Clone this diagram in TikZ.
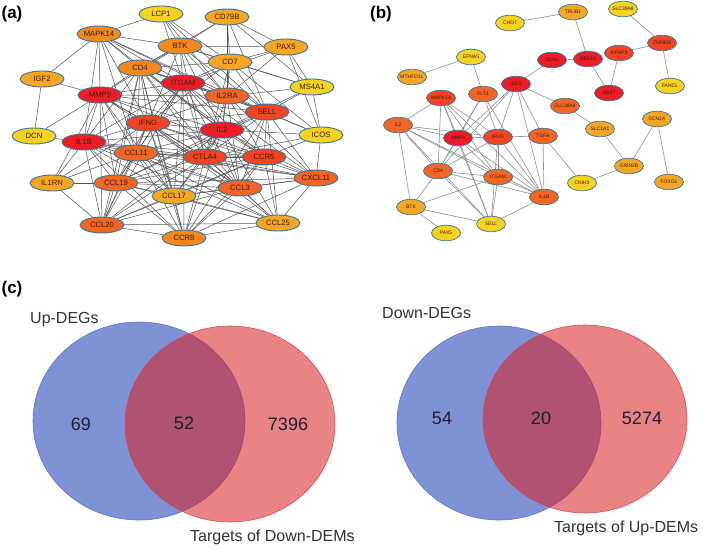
\documentclass[tikz,border=0pt]{standalone}
\usepackage{fontspec}
\setmainfont{Liberation Sans}
\usetikzlibrary{shapes.geometric,backgrounds}
\definecolor{cR}{RGB}{238,28,36}
\definecolor{cRO}{RGB}{240,68,34}
\definecolor{cO1}{RGB}{242,101,34}
\definecolor{cO2}{RGB}{245,135,31}
\definecolor{cLO}{RGB}{246,166,35}
\definecolor{cY}{RGB}{248,210,30}
\definecolor{nbord}{RGB}{48,118,160}
\definecolor{edgea}{RGB}{85,85,85}
\definecolor{edgeb}{RGB}{145,145,145}
\definecolor{vblue}{RGB}{128,146,214}
\definecolor{vblueb}{RGB}{95,115,205}
\definecolor{vred}{RGB}{215,30,35}
\definecolor{vredb}{RGB}{205,70,80}
\definecolor{numcol}{RGB}{30,30,45}
\definecolor{ntext}{RGB}{60,30,20}
\begin{document}
\begin{tikzpicture}[x=1pt,y=-1pt,
 na/.style={ellipse,draw=nbord,line width=0.9pt,minimum width=44pt,minimum height=16pt,inner sep=0pt,font=\fontsize{7.7}{8}\selectfont,text=ntext},
 nb/.style={ellipse,draw=nbord,line width=0.7pt,minimum width=29pt,minimum height=15.5pt,inner xsep=-3pt,inner ysep=0pt,font=\fontsize{5}{6}\selectfont,text=ntext},
 ea/.style={draw=edgea,line width=0.5pt},
 eb/.style={draw=edgeb,line width=0.6pt},
 plabel/.style={font=\fontsize{17}{20}\selectfont\bfseries,inner sep=0pt},
 vnum/.style={font=\fontsize{18}{20}\selectfont,text=numcol,inner sep=0pt},
 vlab/.style={font=\fontsize{16}{18}\selectfont,text=black!80,inner sep=0pt,anchor=west}]
\useasboundingbox (0,0) rectangle (708,549);

% ---------- panel labels
\node[plabel] (la) at (12,14) {(a)};
\node[plabel] (lb) at (381,14) {(b)};
\node[plabel] (lc) at (12,289) {(c)};

% ---------- panel (a) nodes
\node[na,fill=cY] (aLCP1) at (161,14) {LCP1};
\node[na,fill=cLO] (aCD79B) at (227,17) {CD79B};
\node[na,fill=cO2] (aMAPK14) at (99,34) {MAPK14};
\node[na,fill=cO2] (aBTK) at (180,46) {BTK};
\node[na,fill=cLO] (aPAX5) at (286,47) {PAX5};
\node[na,fill=cO2] (aCD4) at (140,68) {CD4};
\node[na,fill=cLO] (aCD7) at (230,62) {CD7};
\node[na,fill=cLO] (aIGF2) at (42,79) {IGF2};
\node[na,fill=cR] (aITGAM) at (183,83) {ITGAM};
\node[na,fill=cO1] (aIL2RA) at (227,96) {IL2RA};
\node[na,fill=cY] (aMS4A1) at (312,87) {MS4A1};
\node[na,fill=cR] (aMMP9) at (100,95) {MMP9};
\node[na,fill=cRO] (aSELL) at (267,112) {SELL};
\node[na,fill=cRO] (aIFNG) at (148,123) {IFNG};
\node[na,fill=cR] (aIL2) at (222,130) {IL2};
\node[na,fill=cY] (aICOS) at (321,135) {ICOS};
\node[na,fill=cY] (aDCN) at (34,136) {DCN};
\node[na,fill=cR] (aIL1B) at (84,142) {IL1B};
\node[na,fill=cO1] (aCCL11) at (136,153) {CCL11};
\node[na,fill=cRO] (aCTLA4) at (205,157) {CTLA4};
\node[na,fill=cRO] (aCCR5) at (264,157) {CCR5};
\node[na,fill=cO1] (aCXCL11) at (316,178) {CXCL11};
\node[na,fill=cLO] (aIL1RN) at (52,183) {IL1RN};
\node[na,fill=cO1] (aCCL19) at (116,183) {CCL19};
\node[na,fill=cO1] (aCCL3) at (240,188) {CCL3};
\node[na,fill=cLO] (aCCL17) at (174,196) {CCL17};
\node[na,fill=cO1] (aCCL20) at (102,225) {CCL20};
\node[na,fill=cO2] (aCCR8) at (184,238) {CCR8};
\node[na,fill=cLO] (aCCL25) at (278,223) {CCL25};

% ---------- panel (b) nodes
\node[nb,fill=cY] (bCHD7) at (510,23) {CHD7};
\node[nb,fill=cLO] (bTRUB1) at (573,12) {TRUB1};
\node[nb,fill=cY] (bSLC39A8) at (623,9) {SLC39A8};
\node[nb,fill=cY] (bEFNA5) at (471,57) {EFNA5};
\node[nb,fill=cLO] (bMTHFD1L) at (412,77) {MTHFD1L};
\node[nb,fill=cR] (bOLA1) at (552,60) {OLA1};
\node[nb,fill=cR] (bBBS10) at (588,59) {BBS10};
\node[nb,fill=cRO] (bKIFAP3) at (619,53) {KIFAP3};
\node[nb,fill=cRO] (bZNF808) at (662,43) {ZNF808};
\node[nb,fill=cR] (bBBS7) at (609,93) {BBS7};
\node[nb,fill=cY] (bFANCL) at (670,86) {FANCL};
\node[nb,fill=cR] (bIGF2) at (516,84) {IGF2};
\node[nb,fill=cRO] (bMAPK14) at (441,98) {MAPK14};
\node[nb,fill=cO1] (bFLT4) at (483,94) {FLT4};
\node[nb,fill=cO1] (bSLC38A4) at (565,106) {SLC38A4};
\node[nb,fill=cO1] (bIL2) at (398,125) {IL2};
\node[nb,fill=cR] (bMMP9) at (458,138) {MMP9};
\node[nb,fill=cRO] (bIFNG) at (498,137) {IFNG};
\node[nb,fill=cO1] (bTGFA) at (543,136) {TGFA};
\node[nb,fill=cLO] (bSLC1A1) at (600,129) {SLC1A1};
\node[nb,fill=cLO] (bSCN2A) at (657,119) {SCN2A};
\node[nb,fill=cLO] (bGRIN2B) at (629,166) {GRIN2B};
\node[nb,fill=cY] (bCNIH3) at (582,183) {CNIH3};
\node[nb,fill=cLO] (bFOXG1) at (669,182) {FOXG1};
\node[nb,fill=cO1] (bCD4) at (438,171) {CD4};
\node[nb,fill=cO1] (bITGAM) at (498,177) {ITGAM};
\node[nb,fill=cO1] (bIL1B) at (544,197) {IL1B};
\node[nb,fill=cLO] (bBTK) at (411,207) {BTK};
\node[nb,fill=cY] (bSELL) at (491,224) {SELL};
\node[nb,fill=cY] (bPAX5) at (446,233) {PAX5};

\begin{pgfonlayer}{background}
\fill[white] (0,0) rectangle (708,549);
\foreach \s/\tl in {
 LCP1/{MAPK14,BTK,CD7,ITGAM,IL2RA,SELL},
 CD79B/{BTK,CD7,PAX5,MS4A1,IL2RA,SELL,CD4},
 PAX5/{BTK,CD7,MS4A1,ITGAM,ICOS,IL2RA},
 MS4A1/{CD7,SELL,ICOS,BTK,IL2RA,IL2},
 MAPK14/{IGF2,CD4,MMP9,BTK,ITGAM,IFNG,IL2,IL1B,IL2RA,CCL11,SELL},
 IGF2/{MMP9,DCN},
 DCN/{MMP9,IL1B},
 BTK/{CD4,ITGAM,CD7,IL2RA,IL2,SELL,MMP9,IFNG,CTLA4},
 CD4/{ITGAM,MMP9,IFNG,IL2,IL1B,CCL11,CTLA4,CCR5,CCL19,CCL3,SELL,IL2RA,CCL17,CCL20,CCR8,CD7},
 CD7/{ITGAM,IL2RA,SELL,IL2,ICOS,CTLA4,IFNG},
 ITGAM/{MMP9,IFNG,IL2,IL1B,SELL,IL2RA,CCL11,CTLA4,CCR5,CCL3,CCL19,CCL17,CCL20,CCR8,CXCL11},
 IL2RA/{IL2,SELL,IFNG,CTLA4,CCR5,ICOS,CCL3,CXCL11,MMP9},
 MMP9/{IFNG,IL1B,IL2,CCL11,CCL19,CTLA4,CCL20,IL1RN,CCL3,CCL17,SELL,CCR5},
 SELL/{IL2,ICOS,CCR5,CTLA4,IFNG,CXCL11,CCL3,CCL25,CCL19,CCR8},
 IFNG/{IL2,IL1B,CCL11,CTLA4,CCR5,CCL19,CCL3,CCL17,CCL20,CXCL11,CCR8,IL1RN,CCL25},
 IL2/{CTLA4,CCR5,ICOS,CCL11,IL1B,CXCL11,CCL3,CCL17,CCL19,CCL20,CCR8,CCL25},
 ICOS/{CTLA4,CCR5,CXCL11},
 IL1B/{CCL11,IL1RN,CCL19,CCL20,CTLA4,CCL3,CCR5,CCL17,CXCL11,CCL25,CCR8},
 CCL11/{CCL19,CTLA4,CCL17,CCR5,CCL3,CCL20,CXCL11,IL1RN,CCR8,CCL25},
 CTLA4/{CCR5,CCL3,CCL17,CCL19,CCR8,CCL20,CXCL11,CCL25},
 CCR5/{CXCL11,CCL3,CCL25,CCR8,CCL17,CCL19,CCL20},
 CXCL11/{CCL3,CCL25,CCL19,CCR8,CCL17},
 IL1RN/{CCL19,CCL20},
 CCL19/{CCL20,CCL17,CCL3,CCR8,CCL25},
 CCL3/{CCL17,CCR8,CCL25,CCL20},
 CCL17/{CCL20,CCR8,CCL25},
 CCL20/{CCR8,CCL25},
 CCR8/{CCL25}}
 {\foreach \t in \tl {\draw[ea] (a\s) -- (a\t);}}
\foreach \s/\tl in {
 CHD7/{TRUB1}, TRUB1/{BBS10}, OLA1/{BBS10,IGF2}, BBS10/{BBS7},
 KIFAP3/{BBS7,ZNF808}, SLC39A8/{ZNF808}, ZNF808/{FANCL},
 IGF2/{SLC38A4,MMP9,IFNG,TGFA,IL1B,CD4}, SLC38A4/{SLC1A1}, SLC1A1/{GRIN2B},
 SCN2A/{GRIN2B,FOXG1}, GRIN2B/{CNIH3}, TGFA/{CNIH3,IL1B},
 EFNA5/{MTHFD1L,FLT4}, FLT4/{MMP9,IFNG,IL1B,CD4},
 MAPK14/{IL2,MMP9,IFNG,CD4,ITGAM,IL1B,SELL},
 IL2/{MMP9,IFNG,CD4,ITGAM,BTK,IL1B,SELL},
 MMP9/{IFNG,CD4,ITGAM,IL1B,SELL},
 IFNG/{TGFA,CD4,ITGAM,IL1B,SELL},
 CD4/{ITGAM,BTK,SELL,IL1B}, ITGAM/{BTK,SELL,IL1B},
 BTK/{SELL,PAX5}, SELL/{IL1B}}
 {\foreach \t in \tl {\draw[eb] (b\s) -- (b\t);}}
\end{pgfonlayer}

% ---------- panel (c) Venn diagrams
\fill[vblue] (139,421) ellipse [x radius=106pt, y radius=99pt];
\draw[vblueb,line width=0.6pt] (139,421) ellipse [x radius=106pt, y radius=99pt];
\filldraw[fill=vred,fill opacity=0.55,draw=vredb,draw opacity=0.9,line width=0.6pt] (230,424) ellipse [x radius=105pt, y radius=98pt];

\fill[vblue] (499,423) ellipse [x radius=102pt, y radius=97pt];
\draw[vblueb,line width=0.6pt] (499,423) ellipse [x radius=102pt, y radius=97pt];
\filldraw[fill=vred,fill opacity=0.55,draw=vredb,draw opacity=0.9,line width=0.6pt] (585,419) ellipse [x radius=102pt, y radius=94pt];

\node[vnum] (n69) at (81,424) {69};
\node[vnum] (n52) at (184,423) {52};
\node[vnum] (n7396) at (288,424) {7396};
\node[vlab] (lup) at (30,320) {Up-DEGs};
\node[vlab] (ltd) at (190,537) {Targets of Down-DEMs};

\node[vnum] (n54) at (442,418) {54};
\node[vnum] (n20) at (541,418) {20};
\node[vnum] (n5274) at (642,418) {5274};
\node[vlab] (ldown) at (382,313) {Down-DEGs};
\node[vlab] (ltu) at (554,528) {Targets of Up-DEMs};
\end{tikzpicture}
\end{document}
